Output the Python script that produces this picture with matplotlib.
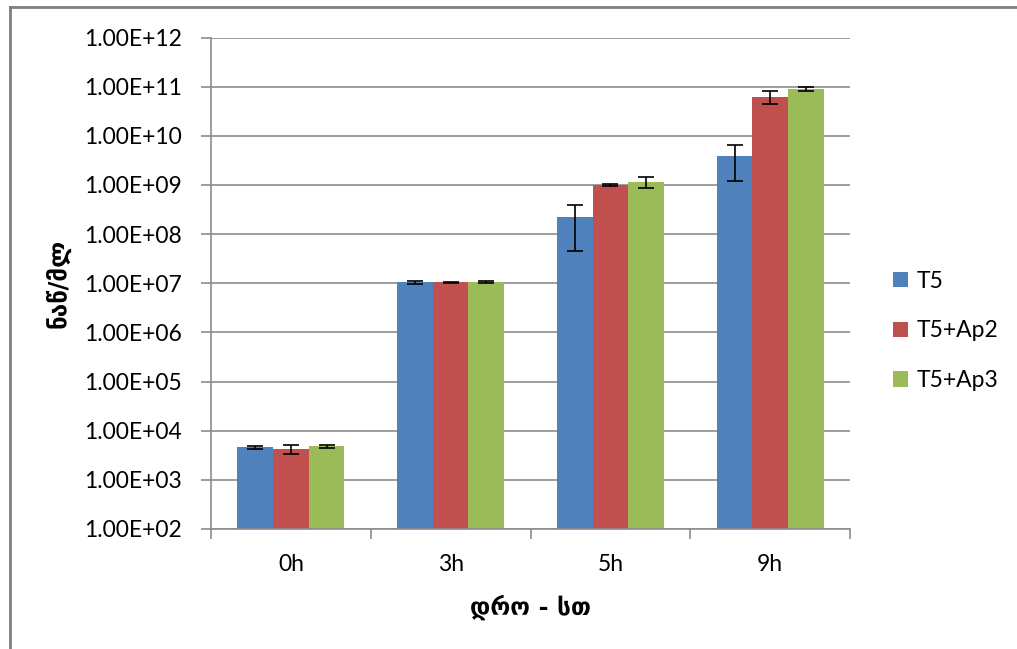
import numpy as np
import matplotlib
matplotlib.use("Agg")
import matplotlib.pyplot as plt
from matplotlib.lines import Line2D
from matplotlib.patches import Patch

categories = ["0h", "3h", "5h", "9h"]
series_names = ["T5", "T5+Ap2", "T5+Ap3"]
t5 = [4.6e3, 1.05e7, 2.2e8, 3.9e9]
t5_ap2 = [4.3e3, 1.04e7, 1.0e9, 6.3e10]
t5_ap3 = [4.8e3, 1.05e7, 1.15e9, 9.0e10]
t5_err = [0.3e3, 0.07e7, 1.75e8, 2.7e9]
t5_ap2_err = [0.9e3, 0.04e7, 0.05e9, 1.8e10]
t5_ap3_err = [0.35e3, 0.06e7, 0.3e9, 0.75e10]
y_ticks = [1e2, 1e3, 1e4, 1e5, 1e6, 1e7, 1e8, 1e9, 1e10, 1e11, 1e12]
colors = ["#4F81BD", "#C0504D", "#9BBB59"]

values = [t5, t5_ap2, t5_ap3]
errors = [t5_err, t5_ap2_err, t5_ap3_err]

font = "Lato"
plt.rcParams["font.family"] = [font, "DejaVu Sans"]

fig = plt.figure(figsize=(10.17, 6.49), dpi=100)
ax = fig.add_axes([0.2075, 0.1849, 0.6283, 0.7573])

grid_c = "#8C8C8C"
x = np.arange(len(categories))
w = 0.223
for i, (vals, errs, c, name) in enumerate(zip(values, errors, colors, series_names)):
    pos = x + (i - 1) * w
    ax.bar(pos, vals, width=w, color=c, edgecolor="none", label=name, zorder=2)
    ax.errorbar(pos, vals, yerr=errs, fmt="none", ecolor="black",
                elinewidth=1.2, capsize=6, capthick=1.2, zorder=3)

ax.set_yscale("log")
ax.set_ylim(1e2, 1e12)
ax.set_yticks(y_ticks)
ax.set_yticklabels([f"1.00E+{int(np.log10(v)):02d}" for v in y_ticks])
ax.yaxis.set_minor_locator(matplotlib.ticker.NullLocator())
ax.set_xlim(-0.5, len(categories) - 0.5)
ax.set_xticks(x)
ax.set_xticklabels(categories)
ax.set_xticks(np.arange(len(categories) + 1) - 0.5, minor=True)
ax.tick_params(axis="x", which="major", length=0, pad=18, labelsize=16.5)
ax.tick_params(axis="x", which="minor", length=7, color=grid_c, width=1.2)
ax.tick_params(axis="y", which="major", length=7, color=grid_c, width=1.2,
               pad=14, labelsize=16.5)

ax.grid(axis="y", color=grid_c, linewidth=1.2, zorder=0)
ax.set_axisbelow(True)
for s in ["top", "right"]:
    ax.spines[s].set_visible(False)
for s in ["left", "bottom"]:
    ax.spines[s].set_color(grid_c)
    ax.spines[s].set_linewidth(1.2)

ax.set_xlabel("დრო - სთ", fontsize=17.5, fontweight="bold",
              family=["DejaVu Sans"], labelpad=14)
ax.set_ylabel("ნაწ/მლ", fontsize=17.5, fontweight="bold",
              family=["DejaVu Sans"], labelpad=10)

handles = [Patch(facecolor=c, edgecolor="none") for c in colors]
fig.legend(handles, series_names, loc="center left",
           bbox_to_anchor=(0.858, 0.49), frameon=False, fontsize=16.5,
           handlelength=0.65, handleheight=0.65, handletextpad=0.35,
           labelspacing=1.25)

# outer chart frame
fc = "#7F7F7F"
fig.add_artist(Line2D([10 / 1017, 1.0], [1 - 7 / 649, 1 - 7 / 649],
                      transform=fig.transFigure, color=fc, linewidth=2))
fig.add_artist(Line2D([10 / 1017, 10 / 1017], [0.0, 1 - 7 / 649],
                      transform=fig.transFigure, color=fc, linewidth=2))

fig.savefig("out.png", dpi=100)
